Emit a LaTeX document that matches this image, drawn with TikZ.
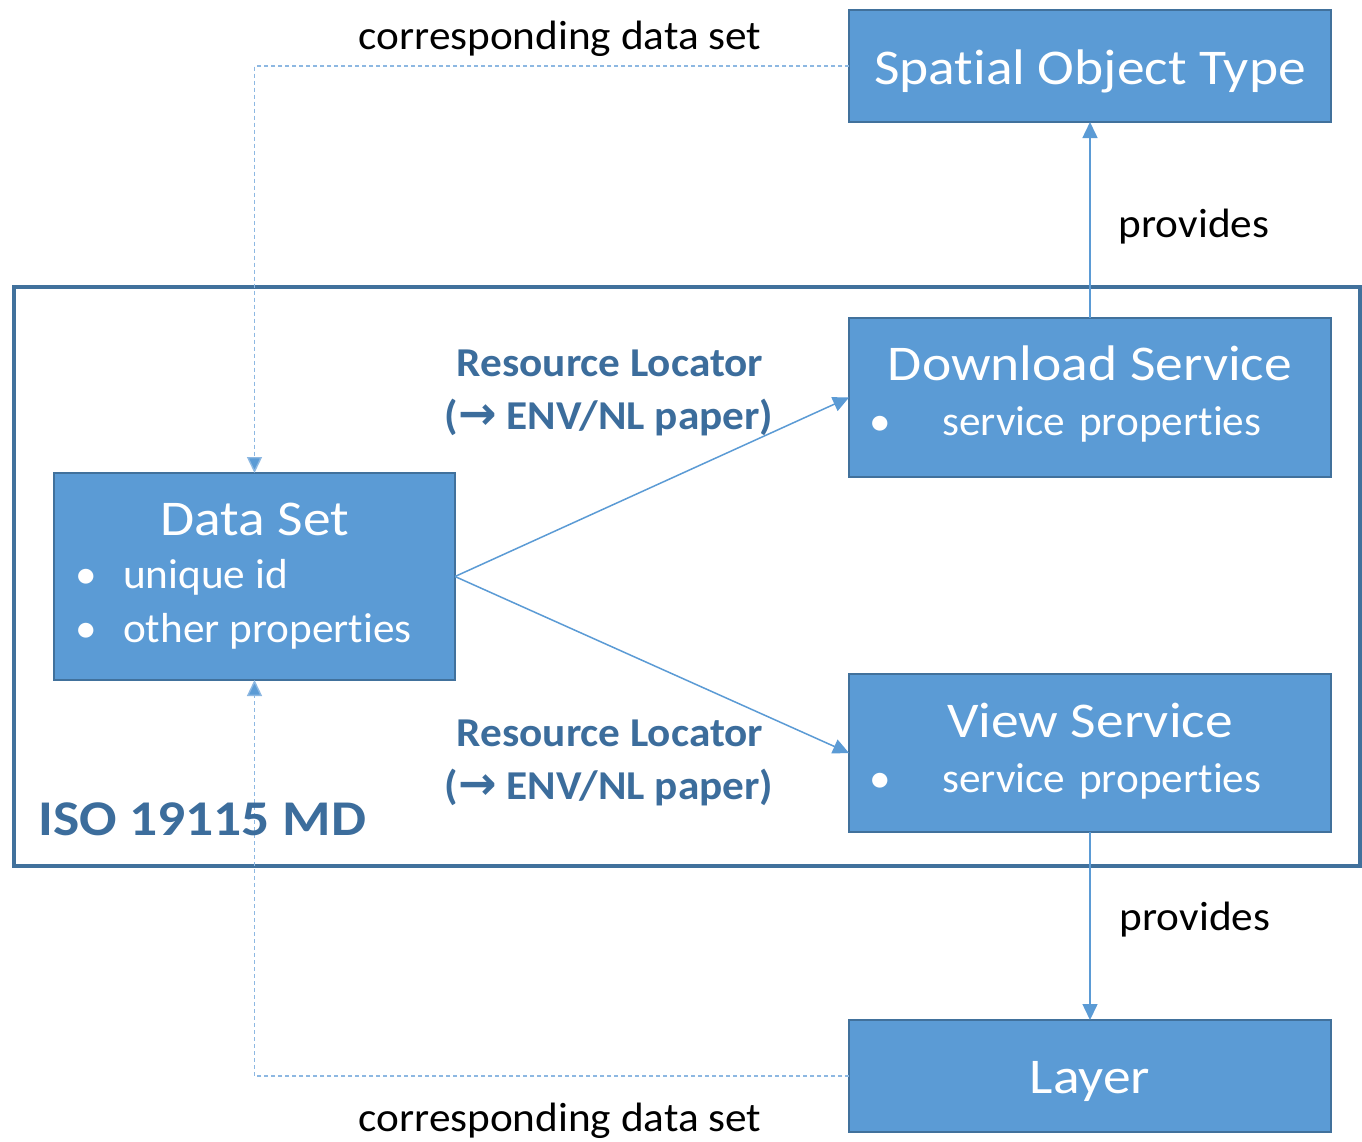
\documentclass[tikz,border=0pt]{standalone}
\usepackage{fontspec}
\setmainfont{Carlito}[Ligatures=NoCommon]
\newfontfamily\bigfam{Carlito}[FakeStretch=1.11, Ligatures=NoCommon]
\newfontfamily\smallfam{Carlito}[FakeStretch=1.03, Ligatures=NoCommon]
\newfontfamily\lblfam{Carlito}[FakeStretch=1.055, Ligatures=NoCommon]
\newfontfamily\symfont{DejaVu Sans}
\usetikzlibrary{arrows.meta}
\definecolor{boxfill}{HTML}{5B9BD5}
\definecolor{boxline}{HTML}{41719C}
\definecolor{darkblue}{HTML}{3C6D9C}
\definecolor{dashblue}{HTML}{8DB8E2}
\begin{document}
\begin{tikzpicture}[x=1pt,y=-1pt,
 box/.style={draw=boxline, fill=boxfill, line width=1.5pt, inner sep=0pt, outer sep=0pt},
 big/.style={text=white, font=\bigfam\fontsize{50}{60}\selectfont, inner sep=0pt},
 small/.style={text=white, font=\smallfam\fontsize{42}{50}\selectfont, inner sep=0pt},
 lbl/.style={text=black, font=\lblfam\fontsize{41}{50}\selectfont, inner sep=0pt},
 rl/.style={text=darkblue, font=\lblfam\bfseries\fontsize{41}{50}\selectfont, inner sep=0pt},
 iso/.style={text=darkblue, font=\bigfam\bfseries\fontsize{50}{60}\selectfont, inner sep=0pt},
 conn/.style={draw=boxfill, line width=1.5pt, -{Triangle[length=16pt,width=15pt]}},
 dconn/.style={draw=dashblue, line width=1.4pt, dash pattern=on 4pt off 3pt, -{Triangle[length=16pt,width=15pt,fill=boxfill]}}
]
\fill[white] (0,0) rectangle (1362,1141);
\useasboundingbox (0,0) rectangle (1362,1141);

% ISO frame
\draw[boxline, line width=4pt] (14,287) rectangle (1360,866);

% boxes
\node[box, minimum width=482pt, minimum height=112pt] (sot) at (1090,66) {};
\node[box, minimum width=482pt, minimum height=159pt] (dl) at (1090,397.5) {};
\node[box, minimum width=482pt, minimum height=158pt] (vs) at (1090,753) {};
\node[box, minimum width=482pt, minimum height=112pt] (layer) at (1090,1076) {};
\node[box, minimum width=401pt, minimum height=207pt] (ds) at (254.5,576.5) {};

% box texts
\node[big, anchor=base] (sott) at (1090,84) {Spatial Object Type};
\node[big, anchor=base] (dlt) at (1090,380) {Download Service};
\node[small, anchor=base] (dlb) at (880,435) {•};
\node[small, anchor=base west] (dlp) at (942,435) {service\hspace{4pt} properties};
\node[big, anchor=base] (vst) at (1090,737) {View Service};
\node[small, anchor=base] (vsb) at (880,792) {•};
\node[small, anchor=base west] (vsp) at (942,792) {service\hspace{4pt} properties};
\node[big, anchor=base] (layert) at (1090,1093) {Layer};
\node[big, anchor=base] (dst) at (255,535) {Data Set};
\node[small, anchor=base] (dsb1) at (86,588) {•};
\node[small, anchor=base west] (dsp1) at (123,588) {unique id};
\node[small, anchor=base] (dsb2) at (86,642) {•};
\node[small, anchor=base west] (dsp2) at (123,642) {other properties};

% connectors
\draw[dconn] (sot.west) -| (ds.north);
\draw[dconn] (layer.west) -| (ds.south);
\draw[conn] (dl.north) -- (sot.south);
\draw[conn] (vs.south) -- (layer.north);
\draw[conn] (ds.east) -- (dl.west);
\draw[conn] (ds.east) -- (vs.west);

% labels
\node[lbl, anchor=base] (cds1) at (560,49) {corresponding data set};
\node[lbl, anchor=base] (cds2) at (560,1131) {corresponding data set};
\node[lbl, anchor=base] (prov1) at (1194,237) {provides};
\node[lbl, anchor=base] (prov2) at (1195,930) {provides};
\node[rl, anchor=base] (rl1a) at (610,376) {Resource Locator};
\node[rl, anchor=base] (rl1b) at (609,429) {({\symfont\fontsize{46}{50}\selectfont →} ENV/NL paper)};
\node[rl, anchor=base] (rl2a) at (610,746) {Resource Locator};
\node[rl, anchor=base] (rl2b) at (609,799) {({\symfont\fontsize{46}{50}\selectfont →} ENV/NL paper)};
\node[iso, anchor=base west] (isol) at (38,835) {ISO 19115 MD};
\end{tikzpicture}
\end{document}
